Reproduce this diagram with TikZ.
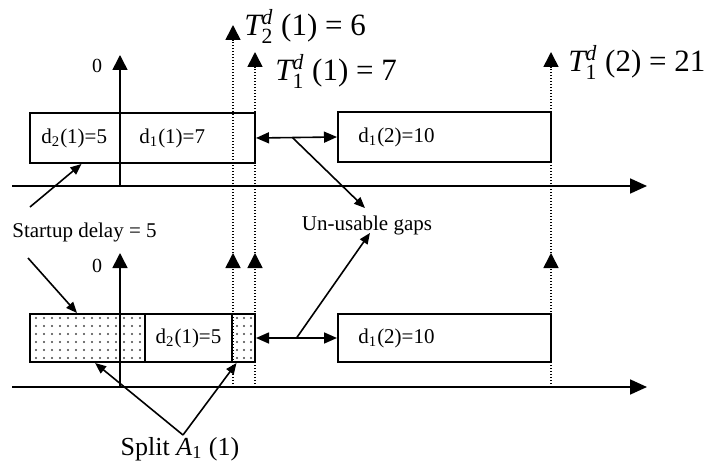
\documentclass[tikz,border=0pt]{standalone}
\usepackage{amsmath}
\usepackage{fontspec}
\setmainfont{Liberation Serif}
\usetikzlibrary{arrows.meta,positioning,calc}
\definecolor{dotgray}{HTML}{444444}

\begin{document}
\begin{tikzpicture}[
  x=0.5pt, y=-0.5pt,
  slot/.style={draw, line width=1pt, inner sep=0pt, minimum height=25pt},
  slotlbl/.style={font=\fontsize{10.5}{12}\selectfont, inner sep=0pt},
  timeaxis/.style={line width=0.9pt, -{Triangle[length=8.5pt,width=7.5pt]}},
  zeroaxis/.style={line width=0.8pt, -{Triangle[length=7.5pt,width=7.5pt]}},
  deadline/.style={line width=0.8pt, dash pattern=on 0.7pt off 0.8pt, -{Triangle[length=7.5pt,width=7.5pt]}},
  gaparrow/.style={line width=0.8pt, {Triangle[length=6.5pt,width=5.5pt]}-{Triangle[length=6.5pt,width=5.5pt]}},
  pointer/.style={line width=0.8pt, -{Triangle[length=5.5pt,width=4.5pt]}},
  note/.style={font=\fontsize{10.5}{12}\selectfont, inner sep=1pt},
  zerolbl/.style={font=\fontsize{10}{12}\selectfont, inner sep=0pt},
  tlbl/.style={font=\fontsize{15.5}{18}\selectfont, inner sep=0pt, anchor=base west},
]
  \useasboundingbox (0,0) rectangle (712,465);

  % time axes
  \coordinate (ax1) at (12,186);   \coordinate (ax1end) at (647,186);
  \coordinate (ax2) at (12,387);   \coordinate (ax2end) at (647,387);
  \draw[timeaxis] (ax1) -- (ax1end);
  \draw[timeaxis] (ax2) -- (ax2end);
  \coordinate (z1) at (120,186);   \coordinate (z1top) at (120,55);
  \coordinate (z2) at (120,387);   \coordinate (z2top) at (120,253);
  \draw[zeroaxis] (z1) -- (z1top);
  \draw[zeroaxis] (z2) -- (z2top);
  \node[zerolbl] (zero1) at (97,66) {0};
  \node[zerolbl] (zero2) at (97,266) {0};

  % deadlines
  \foreach \x/\t [count=\i] in {233/25, 255/52, 551/52} {
    \coordinate (dlb\i) at (\x,387);
    \coordinate (dlm\i) at (\x,253);
    \coordinate (dlt\i) at (\x,\t);
    \draw[deadline] (dlb\i) -- (dlm\i);
    \draw[deadline] (dlm\i) -- (dlt\i);
  }
  \node[tlbl] (tdtwo) at (244,36) {$\textit{T}_{\text{2}}^{\textit{d}}$ (1) = 6};
  \node[tlbl] (tdone) at (275,81) {$\textit{T}_{\text{1}}^{\textit{d}}$ (1) = 7};
  \node[tlbl] (tdlast) at (568,72) {$\textit{T}_{\text{1}}^{\textit{d}}$ (2) = 21};

  % upper schedule
  \node[slot, minimum width=45pt] (d21) at (75,138) {};
  \node[slotlbl, right=6pt of d21.west] (d21l) {d\textsubscript{2}(1)=5};
  \node[slot, minimum width=67.5pt] (d11) at (187.5,138) {};
  \node[slotlbl, right=10pt of d11.west] (d11l) {d\textsubscript{1}(1)=7};
  \node[slot, minimum width=106.5pt] (d12) at (444.5,137) {};
  \node[slotlbl, right=10.5pt of d12.west] (d12l) {d\textsubscript{1}(2)=10};
  \draw[gaparrow] (d11.east) -- (d12.west);

  % lower schedule
  \node[slot, minimum width=57.5pt, minimum height=24pt] (dots1) at (87.5,338) {};
  \node[slot, minimum width=43.5pt, minimum height=24pt] (d22) at (188.5,338) {};
  \node[slotlbl] (d22l) at (d22.center) {d\textsubscript{2}(1)=5};
  \node[slot, minimum width=11.5pt, minimum height=24pt] (dots2) at (243.5,338) {};
  \node[slot, minimum width=106.5pt, minimum height=24pt] (d12b) at (444.5,338) {};
  \node[slotlbl, right=10.5pt of d12b.west] (d12bl) {d\textsubscript{1}(2)=10};
  \foreach \y in {318,326,...,358} {
    \foreach \x in {36,44,...,140}
      \fill[dotgray] (\x,\y) circle (0.55pt);
    \foreach \x in {237,244,251}
      \fill[dotgray] (\x,\y) circle (0.55pt);
  }
  \draw[gaparrow] (dots2.east) -- (d12b.west);

  % annotations
  \node[note, anchor=west] (startup) at (10,232) {Startup delay = 5};
  \coordinate (sdA) at (30,207);
  \coordinate (sdB) at (28,258);
  \draw[pointer] (sdA) -- ($(d21.south west)!0.57!(d21.south east)$);
  \draw[pointer] (sdB) -- ($(dots1.north west)!0.41!(dots1.north east)$);

  \node[note, anchor=base] (gaps) at (367,230) {Un-usable gaps};
  \coordinate (gpA) at ($(d11.east)!0.45!(d12.west)$);
  \coordinate (gpB) at ($(dots2.east)!0.5!(d12b.west)$);
  \draw[pointer] (gpA) -- ($(gaps.north)+(-2,-5)$);
  \draw[pointer] (gpB) -- ($(gaps.south)+(3,-4)$);

  \node[note, font=\fontsize{13}{15}\selectfont, anchor=base] (split) at (180,455) {Split \textit{A}\textsubscript{1} (1)};
  \coordinate (spA) at (183,435);
  \draw[pointer] (spA) -- ($(dots1.south west)!0.565!(dots1.south east)$);
  \draw[pointer] (spA) -- ($(dots2.south west)!0.22!(dots2.south east)$);
\end{tikzpicture}
\end{document}
